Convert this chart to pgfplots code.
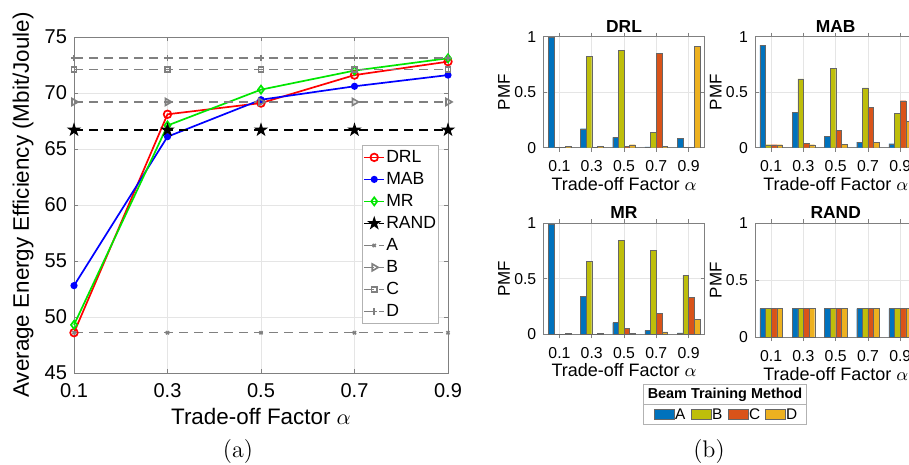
\documentclass[border=0pt]{standalone}
\usepackage{fontspec}
\usepackage{pgfplots}
\usepackage{pgfplotstable}
\pgfplotsset{compat=1.18}
\usetikzlibrary{plotmarks}
\newfontfamily\arial{Liberation Sans}
\definecolor{cA}{RGB}{0,114,189}
\definecolor{cB}{RGB}{190,190,10}
\definecolor{cC}{RGB}{217,83,25}
\definecolor{cD}{RGB}{237,177,32}
\definecolor{mgray}{RGB}{128,128,128}
\definecolor{mred}{RGB}{255,0,0}
\definecolor{mblue}{RGB}{0,0,255}
\definecolor{mgreen}{RGB}{0,230,0}
\pgfdeclareplotmark{pentagram}{%
  \pgfpathmoveto{\pgfpointpolar{90}{\pgfplotmarksize}}%
  \pgfpathlineto{\pgfpointpolar{126}{0.382\pgfplotmarksize}}%
  \pgfpathlineto{\pgfpointpolar{162}{\pgfplotmarksize}}%
  \pgfpathlineto{\pgfpointpolar{198}{0.382\pgfplotmarksize}}%
  \pgfpathlineto{\pgfpointpolar{234}{\pgfplotmarksize}}%
  \pgfpathlineto{\pgfpointpolar{270}{0.382\pgfplotmarksize}}%
  \pgfpathlineto{\pgfpointpolar{306}{\pgfplotmarksize}}%
  \pgfpathlineto{\pgfpointpolar{342}{0.382\pgfplotmarksize}}%
  \pgfpathlineto{\pgfpointpolar{18}{\pgfplotmarksize}}%
  \pgfpathlineto{\pgfpointpolar{54}{0.382\pgfplotmarksize}}%
  \pgfpathclose\pgfusepathqfillstroke}

\pgfplotstableread{
x A B C D
1 0.994 0.002 0.002 0.012
2 0.171 0.823 0.003 0.010
3 0.093 0.874 0.015 0.027
4 0.007 0.138 0.847 0.010
5 0.087 0.005 0.005 0.910
}\drl
\pgfplotstableread{
x A B C D
1 0.925 0.027 0.027 0.027
2 0.321 0.619 0.042 0.027
3 0.105 0.712 0.159 0.030
4 0.051 0.540 0.363 0.048
5 0.036 0.309 0.423 0.240
}\mab
\pgfplotstableread{
x A B C D
1 0.994 0.002 0.002 0.010
2 0.339 0.658 0.002 0.010
3 0.105 0.844 0.051 0.010
4 0.036 0.757 0.189 0.021
5 0.012 0.532 0.330 0.135
}\mr
\pgfplotstableread{
x A B C D
1 0.25 0.25 0.25 0.25
2 0.25 0.25 0.25 0.25
3 0.25 0.25 0.25 0.25
4 0.25 0.25 0.25 0.25
5 0.25 0.25 0.25 0.25
}\rand

\begin{document}
\begin{tikzpicture}
\pgfplotsset{
  matlab/.style={
    scale only axis, anchor=south west,
    axis line style={black!50, line width=0.4pt},
    tick style={black!50, line width=0.4pt},
    tick align=inside, major tick length=2pt,
    grid=major, major grid style={black!10, line width=0.4pt},
    /pgf/number format/assume math mode=true,
    ticklabel style={font=\arial\fontsize{10}{12}\selectfont, text=black},
  },
  barax/.style={
    matlab, width=80.7pt, height=55.5pt,
    xmin=0.5, xmax=5.5, ymin=0, ymax=1,
    xtick={1,2,3,4,5}, xticklabels={0.1,0.3,0.5,0.7,0.9},
    ytick={0,0.5,1}, yticklabels={0,0.5,1},
    ybar, bar width=0.175,
    ticklabel style={font=\arial\fontsize{7.9}{9}\selectfont},
    xticklabel style={yshift=-1pt},
    xlabel={Trade-off Factor $\alpha$}, ylabel={PMF},
    xlabel style={font=\arial\fontsize{9}{11}\selectfont, at={(axis description cs:0.5,-0.324)}, anchor=center},
    ylabel style={font=\arial\fontsize{8.5}{10}\selectfont, at={(axis description cs:-0.2435,0.5)}, anchor=center},
    title style={font=\arial\bfseries\fontsize{8.7}{10}\selectfont, at={(axis description cs:0.5,1.096)}, anchor=center, yshift=-6pt},
  },
  barA/.style={fill=cA, draw=black!60, line width=0.2pt, bar shift=-0.2625},
  barB/.style={fill=cB, draw=black!60, line width=0.2pt, bar shift=-0.0875},
  barC/.style={fill=cC, draw=black!60, line width=0.2pt, bar shift=0.0875},
  barD/.style={fill=cD, draw=black!60, line width=0.2pt, bar shift=0.2625},
}

% ---------- (a) ----------
\begin{axis}[matlab, at={(37pt,-186.5pt)}, width=187pt, height=168pt,
  xmin=0.1, xmax=0.9, ymin=45, ymax=75, clip=false,
  xtick={0.1,0.3,0.5,0.7,0.9}, xticklabels={0.1,0.3,0.5,0.7,0.9},
  ytick={45,50,55,60,65,70,75}, yticklabels={45,50,55,60,65,70,75},
  xticklabel style={yshift=-1.5pt},
  xlabel={Trade-off Factor $\alpha$}, ylabel={Average Energy Efficiency (Mbit/Joule)},
  label style={font=\arial\fontsize{11.2}{13}\selectfont},
  xlabel style={at={(axis description cs:0.5,-0.130)}, anchor=center},
  ylabel style={at={(axis description cs:-0.1364,0.5)}, anchor=center},
  legend image code/.code={\draw[mark repeat=2,mark phase=2,#1] plot coordinates {(0pt,0pt) (5pt,0pt) (10pt,0pt)};},
  legend style={at={(0.770,0.6786)}, anchor=north west, draw=black!30, fill=white,
    font=\arial\fontsize{8.8}{10}\selectfont, inner xsep=0.5pt, inner ysep=0.5pt,
    nodes={inner xsep=0.6pt, inner ysep=1.5pt, text height=6.4pt, text depth=1.6pt},
    row sep=0pt},
  legend cell align=left,
]
\addplot[mred, line width=0.85pt, mark=o, mark size=1.9pt] coordinates {(0.1,48.6) (0.3,68.1) (0.5,69.1) (0.7,71.6) (0.9,72.8)};
\addlegendentry{DRL}
\addplot[mblue, line width=0.85pt, mark=*, mark size=1.35pt] coordinates {(0.1,52.8) (0.3,66.1) (0.5,69.4) (0.7,70.6) (0.9,71.6)};
\addlegendentry{MAB}
\addplot[mgreen, line width=0.85pt, mark=diamond, mark size=2pt] coordinates {(0.1,49.3) (0.3,67.1) (0.5,70.3) (0.7,72.0) (0.9,73.1)};
\addlegendentry{MR}
\addplot[black, line width=0.85pt, dash pattern=on 4.7pt off 2.8pt, mark=pentagram, mark size=2.4pt, mark options={solid, fill=black}] coordinates {(0.1,66.7) (0.3,66.7) (0.5,66.7) (0.7,66.7) (0.9,66.7)};
\addlegendentry{RAND}
\addplot[mgray, line width=0.8pt, dash pattern=on 4.7pt off 2.8pt, mark=x, mark size=1.1pt, mark options={solid}] coordinates {(0.1,48.6) (0.3,48.6) (0.5,48.6) (0.7,48.6) (0.9,48.6)};
\addlegendentry{A}
\addplot[mgray, line width=0.8pt, dash pattern=on 4.7pt off 2.8pt, mark=triangle, mark size=2pt, mark options={solid, rotate=-90}] coordinates {(0.1,69.2) (0.3,69.2) (0.5,69.2) (0.7,69.2) (0.9,69.2)};
\addlegendentry{B}
\addplot[mgray, line width=0.8pt, dash pattern=on 4.7pt off 2.8pt, mark=square, mark size=1.3pt, mark options={solid}] coordinates {(0.1,72.1) (0.3,72.1) (0.5,72.1) (0.7,72.1) (0.9,72.1)};
\addlegendentry{C}
\addplot[mgray, line width=0.8pt, dash pattern=on 4.7pt off 2.8pt, mark=+, mark size=1.6pt, mark options={solid}] coordinates {(0.1,73.1) (0.3,73.1) (0.5,73.1) (0.7,73.1) (0.9,73.1)};
\addlegendentry{D}
\end{axis}

% ---------- (b) ----------
\begin{axis}[barax, at={(271.65pt,-73.85pt)}, title={DRL}]
\addplot[barA] table[x=x,y=A]{\drl};
\addplot[barB] table[x=x,y=B]{\drl};
\addplot[barC] table[x=x,y=C]{\drl};
\addplot[barD] table[x=x,y=D]{\drl};
\end{axis}
\begin{axis}[barax, at={(377.5pt,-73.85pt)}, title={MAB}]
\addplot[barA] table[x=x,y=A]{\mab};
\addplot[barB] table[x=x,y=B]{\mab};
\addplot[barC] table[x=x,y=C]{\mab};
\addplot[barD] table[x=x,y=D]{\mab};
\end{axis}
\begin{axis}[barax, at={(271.65pt,-167.15pt)}, title={MR}]
\addplot[barA] table[x=x,y=A]{\mr};
\addplot[barB] table[x=x,y=B]{\mr};
\addplot[barC] table[x=x,y=C]{\mr};
\addplot[barD] table[x=x,y=D]{\mr};
\end{axis}
\begin{axis}[barax, at={(377.5pt,-168.5pt)}, height=56.85pt, title={RAND}]
\addplot[barA] table[x=x,y=A]{\rand};
\addplot[barB] table[x=x,y=B]{\rand};
\addplot[barC] table[x=x,y=C]{\rand};
\addplot[barD] table[x=x,y=D]{\rand};
\end{axis}

% legend of (b)
\draw[black!30, fill=white, line width=0.4pt] (321.65pt,-192.15pt) rectangle (403.35pt,-212.15pt);
\draw[black!30, line width=0.4pt] (321.65pt,-202.15pt) -- (403.35pt,-202.15pt);
\node[font=\arial\bfseries\fontsize{7.2}{8}\selectfont, inner sep=0pt] at (362.5pt,-197.3pt) {Beam Training Method};
\foreach \c/\l [count=\i from 0] in {cA/A,cB/B,cC/C,cD/D}{
  \draw[fill=\c, draw=black!60, line width=0.2pt] ({327pt+\i*18.5pt},-204.65pt) rectangle ({337pt+\i*18.5pt},-209.65pt);
  \node[font=\arial\fontsize{7.7}{8}\selectfont, anchor=west, inner sep=0pt] at ({337.4pt+\i*18.5pt},-207.15pt) {\l};
}

% captions
\node[font=\rmfamily\fontsize{12}{14}\selectfont, inner sep=0pt] at (119pt,-226pt) {(a)};
\node[font=\rmfamily\fontsize{12}{14}\selectfont, inner sep=0pt] at (354.5pt,-226pt) {(b)};

\pgfresetboundingbox
\useasboundingbox (0pt,0pt) rectangle (454.5pt,-232.5pt);
\end{tikzpicture}
\end{document}
